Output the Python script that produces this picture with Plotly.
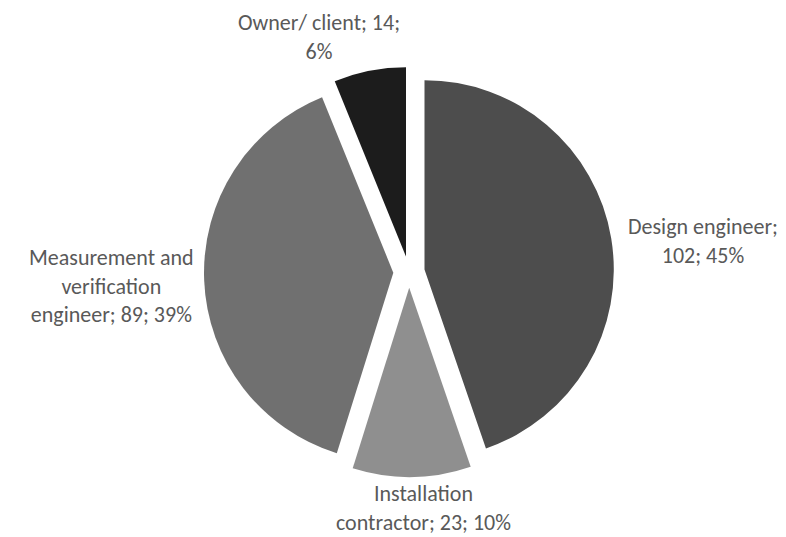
import plotly.graph_objects as go

labels = ["Design engineer", "Installation contractor", "Measurement and verification engineer", "Owner/ client"]
values = [102, 23, 89, 14]
label_lines = [["Design engineer;", "{v}; {p}%"],
               ["Installation", "contractor; {v}; {p}%"],
               ["Measurement and", "verification", "engineer; {v}; {p}%"],
               ["Owner/ client; {v};", "{p}%"]]
colors = ["#4d4d4d", "#8f8f8f", "#707070", "#1c1c1c"]

W, H = 786, 537
total = sum(values)
pcts = [round(v * 100 / total) for v in values]

cx, cy, half = 401, 264, 205
fig = go.Figure(go.Pie(
    labels=labels, values=values, sort=False, direction="clockwise", rotation=0,
    marker=dict(colors=colors, line=dict(width=0)),
    pull=[0.083] * 4, textinfo="none", hoverinfo="label+value+percent",
    domain=dict(x=[(cx - half) / W, (cx + half) / W], y=[1 - (cy + half) / H, 1 - (cy - half) / H]),
    showlegend=False,
))

# label anchor positions (pixels from top-left)
pos = [(695, 233), (415, 500), (104, 278), (311, 29)]
for (x, y), lines, v, p in zip(pos, label_lines, values, pcts):
    txt = "<br>".join(l.format(v=v, p=p) for l in lines)
    fig.add_annotation(x=x / W, y=1 - y / H, xref="paper", yref="paper", text=txt,
                       showarrow=False, xanchor="center", yanchor="middle", align="center",
                       font=dict(size=22, color="#595959", family="Carlito, Lato, sans-serif"))

fig.update_layout(width=W, height=H, margin=dict(l=0, r=0, t=0, b=0),
                  paper_bgcolor="white", plot_bgcolor="white")
fig.write_html("out.html")
